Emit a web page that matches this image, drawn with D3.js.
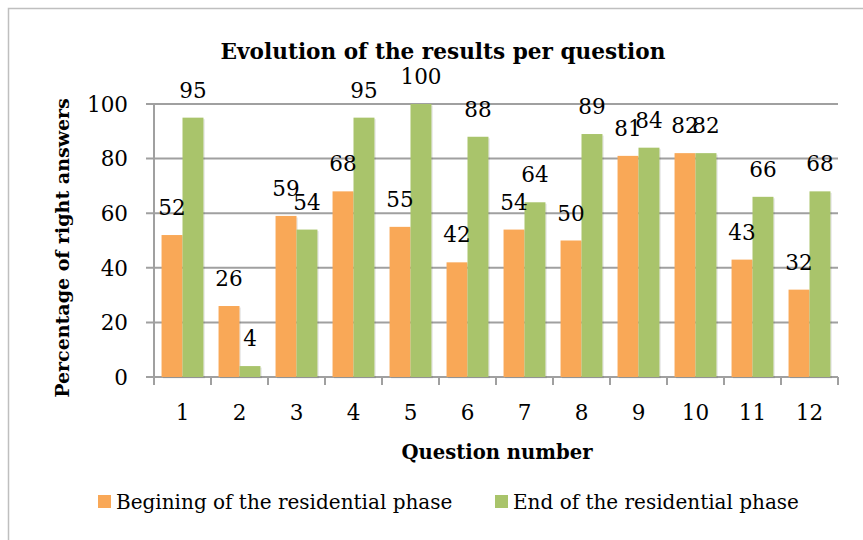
<!DOCTYPE html>
<html>
<head>
<meta charset="utf-8">
<script src="https://cdn.jsdelivr.net/npm/d3@7"></script>
<style>
  html, body { margin: 0; padding: 0; background: #fff; }
  svg { display: block; }
  text { font-family: "DejaVu Serif", "Liberation Serif", serif; fill: #000; }
</style>
</head>
<body>
<svg id="chart" width="863" height="540"></svg>
<script>
const categories = ["1","2","3","4","5","6","7","8","9","10","11","12"];
const beginValues = [52, 26, 59, 68, 55, 42, 54, 50, 81, 82, 43, 32];
const endValues = [95, 4, 54, 95, 100, 88, 64, 89, 84, 82, 66, 68];
const seriesNames = ["Begining of the residential phase", "End of the residential phase"];
const yTicks = [0, 20, 40, 60, 80, 100];
const colors = ["#F9A857", "#A9C46B"];

const svg = d3.select("#chart");
const W = 863, H = 540;
const margin = { left: 154, right: 863 - 838, top: 104, bottom: 540 - 377 };

// outer border
svg.append("rect").attr("x", 8.5).attr("y", 8.5).attr("width", 900).attr("height", 600)
  .attr("fill", "none").attr("stroke", "#BFBFBF").attr("stroke-width", 1.5);

const x = d3.scaleBand().domain(categories).range([margin.left, W - margin.right]).paddingInner(0).paddingOuter(0);
const x1 = d3.scaleBand().domain([0, 1]).range([0, x.bandwidth()]).paddingInner(0).paddingOuter(0.36);
const y = d3.scaleLinear().domain([0, 100]).range([H - margin.bottom, margin.top]);

// gridlines
svg.append("g").selectAll("line").data(yTicks).join("line")
  .attr("x1", margin.left - 8).attr("x2", W - margin.right)
  .attr("y1", d => y(d)).attr("y2", d => y(d))
  .attr("stroke", "#A0A0A0").attr("stroke-width", 2);

// y axis line
svg.append("line").attr("x1", margin.left).attr("x2", margin.left)
  .attr("y1", y(100)).attr("y2", y(0) + 1).attr("stroke", "#A0A0A0").attr("stroke-width", 2);

// y tick labels
svg.append("g").selectAll("text").data(yTicks).join("text")
  .attr("x", 128).attr("y", d => y(d)).attr("dy", "0.36em")
  .attr("text-anchor", "end").style("font-size", "21.5px").text(d => d);

// x axis tick marks at category boundaries
const boundaries = categories.map(c => x(c)).concat([W - margin.right]);
svg.append("g").selectAll("line").data(boundaries).join("line")
  .attr("x1", d => d).attr("x2", d => d)
  .attr("y1", y(0)).attr("y2", y(0) + 8)
  .attr("stroke", "#A0A0A0").attr("stroke-width", 2);

// x tick labels
svg.append("g").selectAll("text").data(categories).join("text")
  .attr("x", d => x(d) + x.bandwidth() / 2).attr("y", 420)
  .attr("text-anchor", "middle").style("font-size", "21.5px").text(d => d);

// bars
const data = categories.map((c, i) => ({ c, vals: [beginValues[i], endValues[i]] }));
const groups = svg.append("g").selectAll("g").data(data).join("g")
  .attr("transform", d => `translate(${x(d.c)},0)`);

groups.selectAll("rect.sh").data(d => d.vals.map((v, k) => ({ v, k }))).join("rect")
  .attr("class", "sh")
  .attr("x", d => x1(d.k) + 1.5).attr("y", d => y(d.v) + 1.5)
  .attr("width", x1.bandwidth()).attr("height", d => y(0) - y(d.v))
  .attr("fill", "#000").attr("opacity", 0.08);

groups.selectAll("rect.bar").data(d => d.vals.map((v, k) => ({ v, k }))).join("rect")
  .attr("class", "bar")
  .attr("x", d => x1(d.k)).attr("y", d => y(d.v))
  .attr("width", x1.bandwidth()).attr("height", d => y(0) - y(d.v))
  .attr("fill", d => colors[d.k]);

// value labels
groups.selectAll("text").data(d => d.vals.map((v, k) => ({ v, k }))).join("text")
  .attr("x", d => x1(d.k) + x1.bandwidth() / 2).attr("y", d => y(d.v) - 20)
  .attr("text-anchor", "middle").style("font-size", "21.5px").text(d => d.v);

// title
svg.append("text").attr("x", 443).attr("y", 59).attr("text-anchor", "middle")
  .style("font-size", "21.6px").style("font-weight", "bold")
  .text("Evolution of the results per question");

// axis titles
svg.append("text").attr("x", 497).attr("y", 459).attr("text-anchor", "middle")
  .style("font-size", "19.6px").style("font-weight", "bold").text("Question number");

svg.append("text").attr("transform", "translate(69,248) rotate(-90)").attr("text-anchor", "middle")
  .style("font-size", "19px").style("font-weight", "bold").text("Percentage of right answers");

// legend
const legendX = [98, 495];
const lg = svg.append("g").selectAll("g").data(seriesNames).join("g")
  .attr("transform", (d, i) => `translate(${legendX[i]},495)`);
lg.append("rect").attr("width", 13).attr("height", 13).attr("fill", (d, i) => colors[i]);
lg.append("text").attr("x", 18).attr("y", 14).style("font-size", "20px").text(d => d);
</script>
</body>
</html>
